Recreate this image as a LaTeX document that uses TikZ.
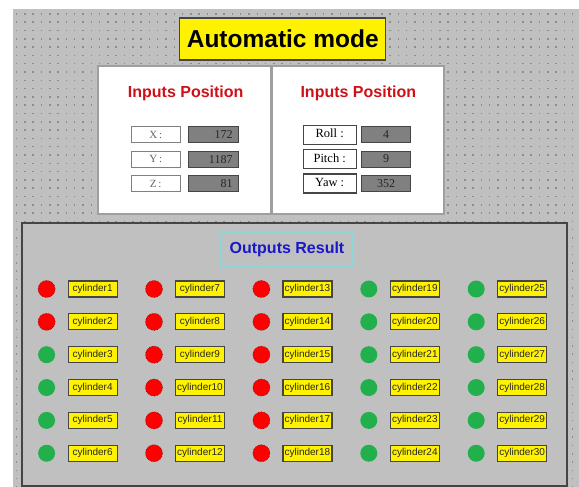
\documentclass[tikz,border=0pt]{standalone}
\usepackage{fontspec}
\setmainfont{Liberation Sans}
\newfontfamily\timesfont{Liberation Serif}
\usetikzlibrary{patterns}

\definecolor{panelgray}{HTML}{C0C0C0}
\definecolor{dotgray}{HTML}{8C8C8C}
\definecolor{framegray}{HTML}{454545}
\definecolor{valgray}{HTML}{808080}
\definecolor{headred}{HTML}{D01018}
\definecolor{headblue}{HTML}{1818C8}
\definecolor{lampred}{HTML}{FF0000}
\definecolor{lampgreen}{HTML}{22B04C}
\definecolor{resultcyan}{HTML}{8CD8D8}

% grid of small dots on the editor background
\pgfdeclarepatternformonly{griddots}{\pgfpoint{-1pt}{-1pt}}{\pgfpoint{1pt}{1pt}}{\pgfpoint{8.3pt}{8.3pt}}{%
  \pgfpathrectangle{\pgfpoint{-0.75pt}{-0.75pt}}{\pgfpoint{1.5pt}{1.5pt}}\pgfusepath{fill}}

\tikzset{
  titlebox/.style={draw=framegray, line width=1.2pt, fill=yellow, inner sep=0pt,
    minimum width=206pt, minimum height=42pt, font=\bfseries\fontsize{24.5}{26}\selectfont},
  headtext/.style={inner sep=0pt, font=\bfseries\fontsize{16}{18}\selectfont},
  posname/.style={draw=gray, line width=0.8pt, fill=white, inner sep=0pt,
    minimum width=49pt, minimum height=16pt, text=gray!80!black,
    font=\timesfont\fontsize{11}{12}\selectfont},
  angname/.style={draw=framegray, line width=1.2pt, fill=white, inner sep=0pt,
    minimum width=53pt, minimum height=19pt, font=\timesfont\fontsize{12.5}{13}\selectfont},
  valbox/.style={draw=framegray, line width=1pt, fill=valgray, inner ysep=0pt,
    minimum height=16pt, text=black!85, font=\timesfont\fontsize{12}{13}\selectfont},
  cylbox/.style={draw=framegray, line width=1.2pt, fill=yellow, inner sep=0pt,
    minimum width=49pt, minimum height=16pt, text=black!85, font=\fontsize{10}{11}\selectfont},
  lamp/.style={circle, inner sep=0pt, minimum size=17pt},
  lampon/.style={lamp, fill=lampred, draw=red!55!black, line width=0.6pt, densely dotted},
  lampoff/.style={lamp, fill=lampgreen}
}

\begin{document}
\begin{tikzpicture}[x=1pt, y=-1pt]
  \useasboundingbox (0,0) rectangle (579,487);
  \fill[white] (0,0) rectangle (579,487);
  \fill[panelgray] (13,9) rectangle (579,487);
  \fill[pattern=griddots, pattern color=dotgray] (13,9) rectangle (579,487);

  \node[titlebox] (title) at (282.8,39) {Automatic mode};

  % input panels
  \draw[gray!75, line width=1.5pt, fill=white] (98,66) rectangle (271,214);
  \draw[gray!75, line width=1.5pt, fill=white] (272,66) rectangle (444,214);
  \node[headtext, text=headred] (poshead) at (185.7,93.3) {Inputs Position};
  \node[headtext, text=headred] (anghead) at (358.3,93) {Inputs Position};

  \foreach \nm/\val [count=\i] in {X/172, Y/1187, Z/81} {
    \node[posname] (posname\i) at (155.7,{134.7+24.5*(\i-1)}) {\nm\,:};
    \node[valbox, text width=38pt, inner xsep=6pt, align=right] (posval\i)
      at (213.5,{134.7+24.5*(\i-1)}) {\val};
  }
  \foreach \nm/\val [count=\i] in {Roll/4, Pitch/9, Yaw/352} {
    \node[angname] (angname\i) at (329.7,{134.7+24.4*(\i-1)}) {\raisebox{2.5pt}{\nm\ :}};
    \node[valbox, minimum width=49pt, inner xsep=0pt] (angval\i)
      at (386.2,{134.3+24.7*(\i-1)}) {\val};
  }

  % output panel
  \draw[framegray, line width=2pt, fill=panelgray] (22,223) rectangle (567,486);
  \node[draw=resultcyan, line width=1.2pt, headtext, text=headblue,
    minimum width=132pt, minimum height=34pt] (result) at (287,249) {Outputs Result};

  \foreach \c in {0,...,4} {
    \foreach \r in {1,...,6} {
      \pgfmathtruncatemacro\n{6*\c+\r}
      \pgfmathtruncatemacro\isred{(\n<3)||((\n>6)&&(\n<19))}
      \ifnum\isred=1 \def\lampstate{lampon}\else\def\lampstate{lampoff}\fi
      \node[\lampstate] (lamp\n) at ({46.6+107.4*\c},{289+32.85*(\r-1)}) {};
      \node[cylbox] (cyl\n) at ({92.6+107.4*\c},{289+32.85*(\r-1)}) {cylinder\n};
    }
  }
\end{tikzpicture}
\end{document}
